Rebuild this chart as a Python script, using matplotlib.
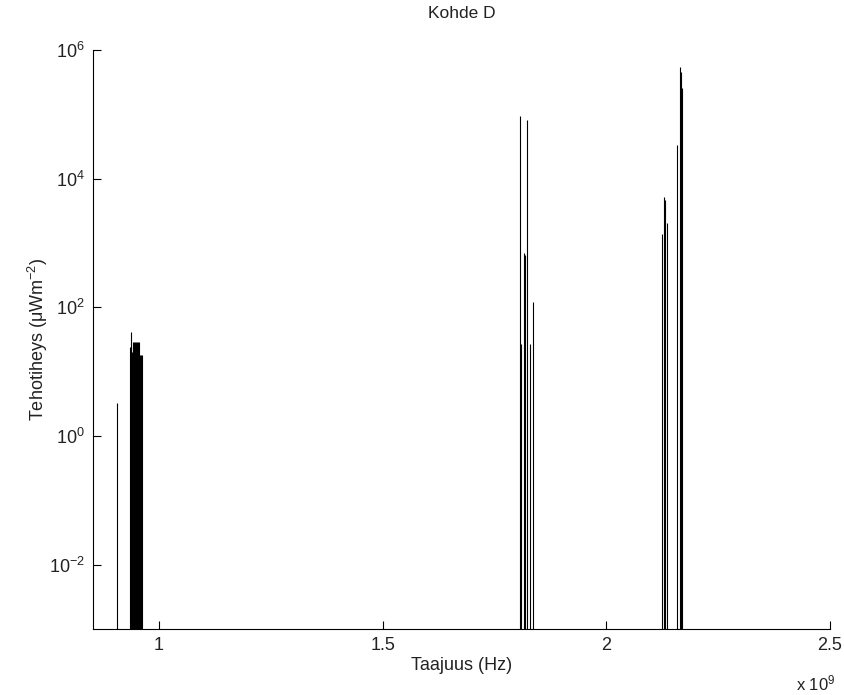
import numpy as np
import matplotlib.pyplot as plt
from matplotlib.ticker import FixedLocator, NullLocator, FuncFormatter

plt.rcParams['font.family'] = ['Liberation Sans', 'DejaVu Sans']
plt.rcParams['mathtext.fontset'] = 'custom'
plt.rcParams['mathtext.rm'] = 'Liberation Sans'
plt.rcParams['mathtext.it'] = 'Liberation Sans:italic'
plt.rcParams['mathtext.default'] = 'regular'

# taajuudet (GHz) ja tehotiheydet (uW/m^2)
freq_gsm900 = [0.906, 0.935, 0.937, 0.938, 0.940, 0.942, 0.944, 0.946,
               0.948, 0.950, 0.952, 0.954, 0.956, 0.958, 0.960, 0.962]
power_gsm900 = [3.3, 24, 24, 42, 20, 29, 29, 29,
                29, 29, 29, 29, 18, 18, 18, 18]

freq_gsm1800 = [1.807, 1.810, 1.817, 1.819, 1.822, 1.829, 1.836]
power_gsm1800 = [9.6e4, 27, 700, 650, 8.1e4, 27, 120]

freq_umts_a = [2.125, 2.130, 2.131, 2.136]
power_umts_a = [1380, 5200, 4600, 2050]

freq_umts_b = [2.159, 2.165, 2.167, 2.170]
power_umts_b = [3.3e4, 5.5e5, 4.6e5, 2.6e5]

freqs = np.array(freq_gsm900 + freq_gsm1800 + freq_umts_a + freq_umts_b)
powers = np.array(power_gsm900 + power_gsm1800 + power_umts_a + power_umts_b)

y_bottom = 1e-3

fig = plt.figure(figsize=(8.45, 6.95), dpi=100)
ax = fig.add_axes([0.110, 0.095, 0.872, 0.833])

ax.vlines(freqs, y_bottom, powers, colors='black', linewidth=0.8)

ax.set_yscale('log')
ax.set_ylim(1e-3, 1e6)
ax.set_xlim(0.852, 2.5)

ax.yaxis.set_major_locator(FixedLocator([1e-2, 1e0, 1e2, 1e4, 1e6]))
ax.yaxis.set_minor_locator(NullLocator())
ax.yaxis.set_major_formatter(FuncFormatter(lambda v, p: '$10^{%d}$' % round(np.log10(v))))
ax.set_xticks([1, 1.5, 2, 2.5])
ax.set_xticklabels(['1', '1.5', '2', '2.5'])

for s in ['top', 'right']:
    ax.spines[s].set_visible(False)
for s in ['left', 'bottom']:
    ax.spines[s].set_linewidth(0.8)

ax.tick_params(direction='in', length=6, width=0.8, labelsize=13, pad=6,
               labelcolor='#222222')

ax.set_title('Kohde D', fontsize=12.5, pad=23, color='#222222')
ax.set_xlabel('Taajuus (Hz)', fontsize=13, labelpad=2, color='#222222')
ax.set_ylabel('Tehotiheys ($\\mu$Wm$^{-2}$)', fontsize=13, color='#222222')
ax.yaxis.set_label_coords(-0.058, 0.5)
fig.text(0.965, 0.006, 'x 10$^{9}$', fontsize=12, ha='center', va='baseline',
         color='#222222')

fig.savefig('out.png', dpi=100)
